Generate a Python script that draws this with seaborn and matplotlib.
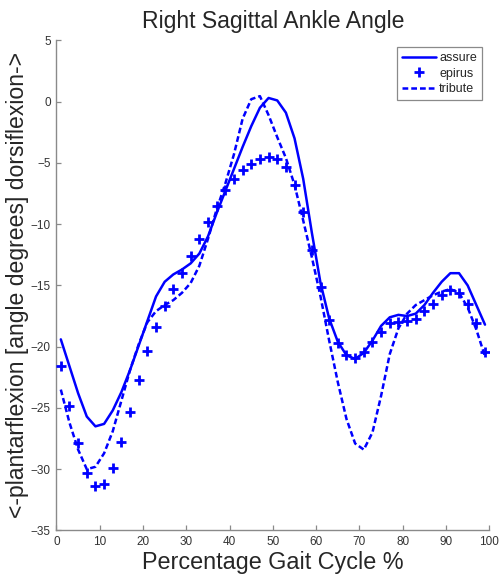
import numpy as np
import pandas as pd
import matplotlib
matplotlib.use("Agg")
import matplotlib.pyplot as plt
from matplotlib.lines import Line2D
import seaborn as sns

# Gait cycle samples (percent) and ankle angle series (degrees)
gait_pct = list(range(1, 100, 2))

assure = [-19.4, -21.6, -23.8, -25.7, -26.5, -26.3, -25.2, -23.7, -21.9, -19.9,
          -17.9, -15.9, -14.7, -14.1, -13.7, -13.2, -12.4, -11.0, -9.1, -7.3,
          -5.5, -3.7, -2.0, -0.5, 0.3, 0.1, -0.9, -3.0, -6.3, -10.7,
          -14.8, -17.7, -19.6, -20.7, -21.0, -20.5, -19.5, -18.3, -17.6, -17.4,
          -17.5, -17.3, -16.6, -15.6, -14.7, -14.0, -14.0, -15.0, -16.6, -18.2]

epirus = [-21.6, -24.8, -27.9, -30.3, -31.4, -31.2, -29.9, -27.8, -25.3, -22.7,
          -20.35, -18.4, -16.7, -15.3, -13.95, -12.6, -11.2, -9.85, -8.5, -7.2,
          -6.3, -5.6, -5.1, -4.7, -4.55, -4.7, -5.3, -6.8, -9.0, -12.1,
          -15.1, -17.8, -19.7, -20.7, -20.9, -20.4, -19.6, -18.8, -18.1, -17.95,
          -17.9, -17.7, -17.1, -16.5, -15.8, -15.4, -15.6, -16.5, -18.1, -20.4]

tribute = [-23.5, -26.2, -28.4, -30.0, -29.8, -28.7, -26.9, -24.4, -21.9, -19.8,
           -18.0, -17.1, -16.6, -16.2, -15.6, -14.8, -13.4, -11.2, -8.8, -6.7,
           -4.3, -1.4, 0.2, 0.45, -1.1, -2.9, -4.6, -6.8, -9.7, -12.7,
           -15.9, -19.5, -22.9, -25.9, -27.9, -28.4, -27.0, -24.0, -20.6, -18.5,
           -17.3, -16.6, -16.2, -15.8, -15.5, -15.3, -15.6, -16.8, -18.6, -20.8]

series_names = ["assure", "epirus", "tribute"]
x_ticks = list(range(0, 101, 10))
y_ticks = list(range(-35, 6, 5))

sns.set_style("ticks")
plt.rcParams["font.family"] = ["Liberation Sans", "DejaVu Sans"]

BLUE = "#0000FF"
GREY = "#8a8a8a"

df = pd.DataFrame({"pct": gait_pct, "assure": assure,
                   "epirus": epirus, "tribute": tribute})

fig = plt.figure(figsize=(4.99, 5.76), dpi=100)
ax = fig.add_axes([0.1132, 0.0790, 0.8674, 0.8509])

sns.lineplot(data=df, x="pct", y="assure", ax=ax, color=BLUE, lw=1.8,
             legend=False)
sns.scatterplot(data=df, x="pct", y="epirus", ax=ax, color=BLUE, marker="+",
                s=42, linewidth=2.0, legend=False, zorder=3)
sns.lineplot(data=df, x="pct", y="tribute", ax=ax, color=BLUE, lw=1.8,
             legend=False, dashes=False)
ax.lines[-1].set_dashes((2.3, 1.2))

ax.set_xlim(0, 100)
ax.set_ylim(-35, 5)
ax.set_xticks(x_ticks)
ax.set_yticks(y_ticks)
ax.tick_params(direction="in", length=3.5, width=0.9, color=GREY,
               labelsize=8.5, labelcolor="#333333", pad=4)
sns.despine(ax=ax)
for side in ("left", "bottom"):
    ax.spines[side].set_color(GREY)
    ax.spines[side].set_linewidth(1.0)

ax.set_title("Right Sagittal Ankle Angle", fontsize=16.6, pad=9)
ax.set_xlabel("Percentage Gait Cycle %", fontsize=16.8, labelpad=2)
ax.set_ylabel("<-plantarflexion [angle degrees] dorsiflexion->",
              fontsize=16.6, labelpad=1)

handles = [
    Line2D([], [], color=BLUE, lw=1.8),
    Line2D([], [], color=BLUE, marker="+", ls="none", markersize=6.5,
           markeredgewidth=2.0),
    Line2D([], [], color=BLUE, lw=1.8, dashes=(2.3, 1.2)),
]
leg = ax.legend(handles, series_names, loc="upper right",
                bbox_to_anchor=(0.983, 0.9865), borderaxespad=0,
                fontsize=9, frameon=True, fancybox=False, framealpha=1,
                edgecolor=GREY, handlelength=2.7, handletextpad=0.25,
                labelspacing=0.3, borderpad=0.4)
leg.get_frame().set_linewidth(0.9)

fig.savefig("out.png", dpi=100)
